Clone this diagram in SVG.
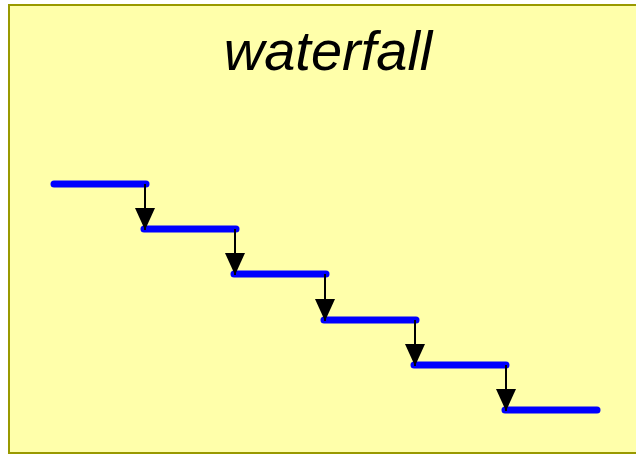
<svg xmlns="http://www.w3.org/2000/svg" width="636" height="455" viewBox="0 0 636 455">
<style>
.bar{stroke:#0000ff;stroke-width:7;stroke-linecap:round;fill:none}
.arr{stroke:#000;stroke-width:2;fill:none;marker-end:url(#ah)}
.title{font-family:"Liberation Sans",Arial,sans-serif;font-style:italic;font-size:56px;fill:#000}
</style>
<defs>
<marker id="ah" markerUnits="userSpaceOnUse" markerWidth="24" markerHeight="20" refX="22" refY="10" orient="auto">
<path d="M0,0 L22,10 L0,20 Z" fill="#000"/>
</marker>
</defs>
<rect x="0" y="0" width="636" height="455" fill="#fff"/>
<rect id="frame" x="9" y="5" width="640" height="448" fill="#ffffaa" stroke="#999900" stroke-width="2"/>
<text class="title" x="328" y="70" text-anchor="middle">waterfall</text>
<g id="bars">
<g id="step1"><line class="bar" x1="54" y1="184" x2="146" y2="184"/></g>
<g id="step2"><line class="bar" x1="144" y1="229" x2="236" y2="229"/></g>
<g id="step3"><line class="bar" x1="234" y1="274" x2="326" y2="274"/></g>
<g id="step4"><line class="bar" x1="324" y1="320" x2="416" y2="320"/></g>
<g id="step5"><line class="bar" x1="414" y1="365" x2="506" y2="365"/></g>
<g id="step6"><line class="bar" x1="505" y1="410" x2="597" y2="410"/></g>
</g>
<g id="connectors">
<line class="arr" x1="145" y1="184" x2="145" y2="230"/>
<line class="arr" x1="235" y1="229" x2="235" y2="275"/>
<line class="arr" x1="325" y1="274" x2="325" y2="321"/>
<line class="arr" x1="415" y1="320" x2="415" y2="366"/>
<line class="arr" x1="506" y1="365" x2="506" y2="411"/>
</g>
</svg>
